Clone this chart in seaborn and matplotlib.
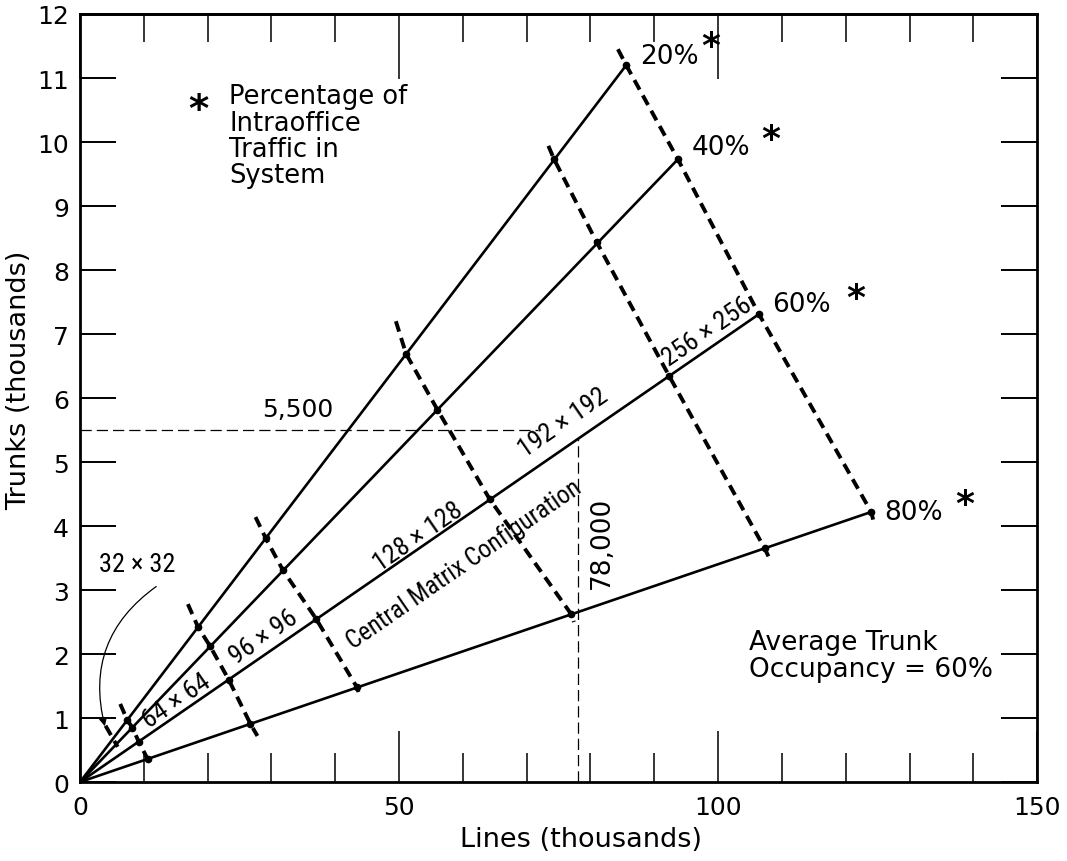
import matplotlib
matplotlib.use("Agg")
import matplotlib.pyplot as plt
from matplotlib import font_manager
import numpy as np
import pandas as pd
import seaborn as sns

# ---- values (x = lines, y = trunks, both in thousands) ----
traffic_labels = ["20%", "40%", "60%", "80%"]
end_x = [85.6, 93.7, 106.4, 124.0]
end_y = [11.2, 9.73, 7.31, 4.22]

# dashed matrix-size boundaries: start, crossings of 20/40/60/80% lines, end
b1_x = [4.0, 5.9]
b1_y = [0.88, 0.55]
b2_x = [6.3, 7.4, 8.2, 9.2, 10.6, 11.1]
b2_y = [1.22, 0.97, 0.85, 0.63, 0.36, 0.25]
b3_x = [16.9, 18.5, 20.4, 23.3, 26.7, 27.8]
b3_y = [2.78, 2.42, 2.12, 1.60, 0.91, 0.72]
b4_x = [27.5, 29.1, 31.8, 37.0, 43.4, 43.9]
b4_y = [4.14, 3.81, 3.31, 2.55, 1.48, 1.33]
b5_x = [49.5, 51.1, 56.0, 64.2, 77.0, 77.4]
b5_y = [7.20, 6.69, 5.82, 4.42, 2.62, 2.50]
b6_x = [73.4, 74.3, 81.0, 92.3, 107.3, 108.3]
b6_y = [9.94, 9.73, 8.43, 6.35, 3.65, 3.44]
b7_x = [84.3, 85.6, 93.7, 106.4, 124.0, 124.3]
b7_y = [11.45, 11.20, 9.73, 7.31, 4.22, 4.10]

matrix_labels = ["64 × 64", "96 × 96", "128 × 128", "192 × 192", "256 × 256"]
matrix_x = [15.2, 28.8, 53.0, 75.7, 98.3]
matrix_y = [1.27, 2.28, 3.84, 5.62, 7.05]

ref_trunks = 5.5   # 5,500 trunks
ref_lines = 78.0   # 78,000 lines

sns.set_theme(style="ticks")
plt.rcParams["font.family"] = ["DejaVu Sans"]
plt.rcParams.update({"text.color": "black", "axes.labelcolor": "black",
                     "xtick.color": "black", "ytick.color": "black",
                     "axes.edgecolor": "black"})

# condensed face for the matrix labels, if one is installed
names = {f.name for f in font_manager.fontManager.ttflist}
narrow = next((n for n in ["Liberation Sans Narrow", "Roboto Condensed",
                           "Open Sans Condensed", "Noto Sans Condensed"] if n in names), None)
narrow_kw = dict(family=narrow) if narrow else dict(family="DejaVu Sans", fontstretch="condensed")

fig = plt.figure(figsize=(10.67, 8.62), dpi=100)
ax = fig.add_axes([0.075, 0.0916, 0.897, 0.891])

# solid lines from the origin
solid = pd.DataFrame({
    "traffic": np.repeat(traffic_labels, 2),
    "x": np.ravel([[0.0, x] for x in end_x]),
    "y": np.ravel([[0.0, y] for y in end_y]),
})
sns.lineplot(data=solid, x="x", y="y", units="traffic", estimator=None, sort=False,
             color="black", lw=1.9, ax=ax, legend=False)

# dashed configuration boundaries
bounds = [(b1_x, b1_y), (b2_x, b2_y), (b3_x, b3_y), (b4_x, b4_y),
          (b5_x, b5_y), (b6_x, b6_y), (b7_x, b7_y)]
dashed = pd.concat([pd.DataFrame({"b": i, "x": bx, "y": by})
                    for i, (bx, by) in enumerate(bounds)], ignore_index=True)
sns.lineplot(data=dashed, x="x", y="y", units="b", estimator=None, sort=False,
             color="black", lw=2.8, linestyle=(0, (2.8, 1.7)), ax=ax, legend=False)
for bx, by in bounds[1:]:
    ax.plot(bx[1:5], by[1:5], "o", color="black", ms=4.5)

# 5,500 / 78,000 reference lines
ax.plot([0, 71.8], [ref_trunks, ref_trunks], color="black", lw=0.9, ls=(0, (9, 4)))
ax.plot([ref_lines, ref_lines], [0, 5.37], color="black", lw=0.9, ls=(0, (9, 4)))
ax.text(34.2, 5.83, "5,500", fontsize=18, ha="center", va="center")
ax.text(81.8, 3.75, "78,000", fontsize=19, ha="center", va="center", rotation=90)

# traffic percentage labels
pct_x = [87.8, 95.9, 108.5, 126.0]
pct_y = [11.35, 9.92, 7.47, 4.22]
star_x = [98.8, 108.2, 121.6, 138.6]
star_y = [11.50, 10.04, 7.56, 4.35]
for lab, px, py, sx, sy in zip(traffic_labels, pct_x, pct_y, star_x, star_y):
    ax.text(px, py, lab, fontsize=19, ha="left", va="center")
    ax.text(sx, sy, "*", fontsize=26, fontweight="bold", ha="center", va="center")

# labels along the 60% line
ang = np.degrees(np.arctan2(end_y[2], end_x[2]))
for lab, mx, my in zip(matrix_labels, matrix_x, matrix_y):
    ax.text(mx, my, lab, fontsize=19, ha="center", va="center", rotation=ang,
            rotation_mode="anchor", transform_rotates_text=True, **narrow_kw)
ax.text(60.2, 3.42, "Central Matrix Configuration", fontsize=18, ha="center", va="center",
        rotation=ang, rotation_mode="anchor", transform_rotates_text=True, **narrow_kw)

ax.text(9.0, 3.4, "32 × 32", fontsize=19, ha="center", va="center", **narrow_kw)
ax.annotate("", xy=(4.0, 0.83), xytext=(12.3, 3.08),
            arrowprops=dict(arrowstyle="-|>", color="black", lw=0.9,
                            connectionstyle="arc3,rad=0.35", mutation_scale=12))

# notes
ax.text(18.6, 10.5, "*", fontsize=28, fontweight="bold", ha="center", va="center")
ax.text(23.4, 10.92, "Percentage of\nIntraoffice\nTraffic in\nSystem", fontsize=18.5,
        ha="left", va="top", linespacing=1.02)
ax.text(104.9, 1.98, "Average Trunk\nOccupancy = 60%", fontsize=19, ha="left",
        va="center", linespacing=1.05)

# axes
ax.set_xlim(0, 150)
ax.set_ylim(0, 12)
ax.set_xticks([0, 50, 100, 150])
ax.set_xticks(np.arange(0, 151, 10), minor=True)
ax.set_yticks(np.arange(0, 13, 1))
ax.tick_params(axis="x", which="major", direction="in", length=37, width=1.1,
               labelsize=18, pad=9, top=False)
ax.tick_params(axis="x", which="minor", direction="in", length=21, width=1.1, top=False)
ax.tick_params(axis="y", direction="in", length=26, width=1.4, labelsize=18, pad=8,
               right=True)
sec = ax.secondary_xaxis("top")
sec.set_xticks([0, 50, 100, 150])
sec.set_xticks(np.arange(0, 151, 10), minor=True)
sec.tick_params(which="major", direction="in", length=47, width=1.1, labeltop=False)
sec.tick_params(which="minor", direction="in", length=20, width=1.1)
sec.spines["top"].set_linewidth(2.0)
for s in ax.spines.values():
    s.set_visible(True)
    s.set_linewidth(2.0)

ax.set_xlabel("Lines (thousands)", fontsize=19.5)
ax.set_ylabel("Trunks (thousands)", fontsize=19.5)
ax.xaxis.set_label_coords(0.523, -0.057)
ax.yaxis.set_label_coords(-0.05, 0.525)

fig.savefig("out.png", dpi=100)
